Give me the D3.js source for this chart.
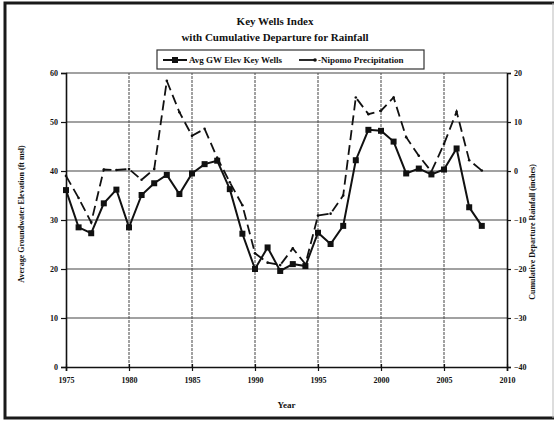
<!DOCTYPE html>
<html>
<head>
<meta charset="utf-8">
<script src="https://cdn.jsdelivr.net/npm/d3@7"></script>
<style>
  body { margin: 0; background: #fff; }
  svg text { font-family: "Liberation Serif", "DejaVu Serif", serif; font-weight: bold; fill: #111; }
</style>
</head>
<body>
<div id="chart"></div>
<script>
// Chart values
const years = [1975, 1976, 1977, 1978, 1979, 1980, 1981, 1982, 1983, 1984, 1985, 1986, 1987, 1988, 1989, 1990, 1991,
    1992, 1993, 1994, 1995, 1996, 1997, 1998, 1999, 2000, 2001, 2002, 2003, 2004, 2005, 2006, 2007, 2008];
const gwElev = [36.1, 28.5, 27.3, 33.4, 36.2, 28.5, 35.1, 37.5, 39.2, 35.3, 39.5, 41.4, 42.1, 36.3, 27.2, 20.0, 24.4,
    19.6, 21.0, 20.6, 27.4, 25.1, 28.8, 42.2, 48.4, 48.2, 46.0, 39.5, 40.5, 39.3, 40.3, 44.6, 32.6, 28.8];
const rainDep = [-1.0, -5.5, -10.5, 0.3, 0.2, 0.4, -1.8, 0.4, 18.4, 12.0, 7.2, 8.6, 2.7, -2.3, -7.0, -16.8, -18.7,
    -19.2, -15.8, -19.0, -9.1, -8.7, -5.0, 15.0, 11.6, 12.3, 15.0, 6.9, 3.1, -0.1, 5.5, 12.1, 2.2, 0.1];
const xTicks = [1975, 1980, 1985, 1990, 1995, 2000, 2005, 2010];
const leftTicks = [0, 10, 20, 30, 40, 50, 60];
const rightTicks = [-40, -30, -20, -10, 0, 10, 20];
const seriesNames = ["Avg GW Elev Key Wells", "-Nipomo Precipitation"];

const width = 559;
const height = 422;
const marginTop = 73;
const marginRight = 52;
const marginBottom = 55;
const marginLeft = 66;

const svg = d3.select("#chart")
    .append("svg")
    .attr("width", width)
    .attr("height", height);

// outer frame
svg.append("rect")
    .attr("x", 0).attr("y", 0).attr("width", width).attr("height", height)
    .attr("fill", "#fff");
svg.append("path")
    .attr("d", `M554,3 H5 V418 H554`)
    .attr("fill", "none").attr("stroke", "#1a1a1a").attr("stroke-width", 3);
svg.append("line")
    .attr("x1", 553).attr("x2", 553).attr("y1", 3).attr("y2", 418)
    .attr("stroke", "#bbb").attr("stroke-width", 1);

const x = d3.scaleLinear().domain([1975, 2010]).range([marginLeft, width - marginRight]);
const yL = d3.scaleLinear().domain([0, 60]).range([height - marginBottom, marginTop]);
const yR = d3.scaleLinear().domain([-40, 20]).range([height - marginBottom, marginTop]);

// gridlines
svg.append("g")
    .selectAll("line")
    .data(leftTicks.slice(1))
    .join("line")
    .attr("x1", x(1975)).attr("x2", x(2010))
    .attr("y1", d => yL(d)).attr("y2", d => yL(d))
    .attr("stroke", "#444").attr("stroke-width", 1.2);
svg.append("g")
    .selectAll("line")
    .data(xTicks.slice(1, -1))
    .join("line")
    .attr("x1", d => x(d)).attr("x2", d => x(d))
    .attr("y1", yL(0)).attr("y2", yL(60))
    .attr("stroke", "#555").attr("stroke-width", 1.1)
    .attr("stroke-dasharray", "3,1");

// axes
const axisL = svg.append("g")
    .attr("transform", `translate(${marginLeft},0)`)
    .call(d3.axisLeft(yL).tickValues(leftTicks).tickSize(5).tickPadding(3));
const axisR = svg.append("g")
    .attr("transform", `translate(${width - marginRight},0)`)
    .call(d3.axisRight(yR).tickValues(rightTicks).tickSize(4).tickPadding(3));
const axisB = svg.append("g")
    .attr("transform", `translate(0,${height - marginBottom})`)
    .call(d3.axisBottom(x).tickValues(xTicks).tickFormat(d3.format("d")).tickSize(4).tickPadding(6));
axisB.selectAll(".tick line").attr("y1", -3);
for (const a of [axisL, axisR, axisB]) {
    a.select(".domain").attr("stroke", "#111").attr("stroke-width", 1.6);
    a.selectAll(".tick line").attr("stroke", "#111").attr("stroke-width", 1.2);
    a.selectAll("text").attr("font-size", 8).attr("font-family", "Liberation Serif").attr("font-weight", "bold").attr("fill", "#111");
}

// axis titles
svg.append("text")
    .attr("transform", `translate(24,${(marginTop + height - marginBottom) / 2 - 6}) rotate(-90)`)
    .attr("text-anchor", "middle")
    .attr("font-size", 8)
    .text("Average Groundwater Elevation (ft msl)");
svg.append("text")
    .attr("transform", `translate(535,${(marginTop + height - marginBottom) / 2 + 12}) rotate(-90)`)
    .attr("text-anchor", "middle")
    .attr("font-size", 8)
    .text("Cumulative Departure Rainfall (inches)");
svg.append("text")
    .attr("x", (marginLeft + width - marginRight) / 2)
    .attr("y", 408)
    .attr("text-anchor", "middle")
    .attr("font-size", 9)
    .text("Year");

// title
svg.append("text")
    .attr("x", 275).attr("y", 25)
    .attr("text-anchor", "middle").attr("font-size", 11)
    .text("Key Wells Index");
svg.append("text")
    .attr("x", 275).attr("y", 41)
    .attr("text-anchor", "middle").attr("font-size", 11)
    .text("with Cumulative Departure for Rainfall");

// series
const gwLine = d3.line().x((d, i) => x(years[i])).y(d => yL(d));
const rainLine = d3.line().x((d, i) => x(years[i])).y(d => yR(d));

svg.append("path")
    .attr("d", rainLine(rainDep))
    .attr("fill", "none").attr("stroke", "#111").attr("stroke-width", 1.8)
    .attr("stroke-dasharray", "10,5");
svg.append("g")
    .selectAll("circle")
    .data(rainDep)
    .join("circle")
    .attr("cx", (d, i) => x(years[i])).attr("cy", d => yR(d))
    .attr("r", 1.3).attr("fill", "#111");

svg.append("path")
    .attr("d", gwLine(gwElev))
    .attr("fill", "none").attr("stroke", "#111").attr("stroke-width", 2);
svg.append("g")
    .selectAll("rect")
    .data(gwElev)
    .join("rect")
    .attr("x", (d, i) => x(years[i]) - 3).attr("y", d => yL(d) - 3)
    .attr("width", 6).attr("height", 6).attr("fill", "#111");

// legend
const legend = svg.append("g").attr("transform", "translate(157,50)");
legend.append("rect")
    .attr("x", 0).attr("y", 0).attr("width", 267).attr("height", 19)
    .attr("fill", "#fff").attr("stroke", "#333").attr("stroke-width", 1.2);
legend.append("line")
    .attr("x1", 6).attr("x2", 30).attr("y1", 10).attr("y2", 10)
    .attr("stroke", "#111").attr("stroke-width", 2);
legend.append("rect")
    .attr("x", 15).attr("y", 7).attr("width", 6).attr("height", 6).attr("fill", "#111");
legend.append("text")
    .attr("x", 32).attr("y", 13).attr("font-size", 9)
    .text(seriesNames[0]);
legend.append("line")
    .attr("x1", 142).attr("x2", 158).attr("y1", 10).attr("y2", 10)
    .attr("stroke", "#111").attr("stroke-width", 1.8);
legend.append("circle")
    .attr("cx", 158).attr("cy", 10).attr("r", 1.8).attr("fill", "#111");
legend.append("text")
    .attr("x", 161).attr("y", 13).attr("font-size", 9)
    .text(seriesNames[1]);
</script>
</body>
</html>
